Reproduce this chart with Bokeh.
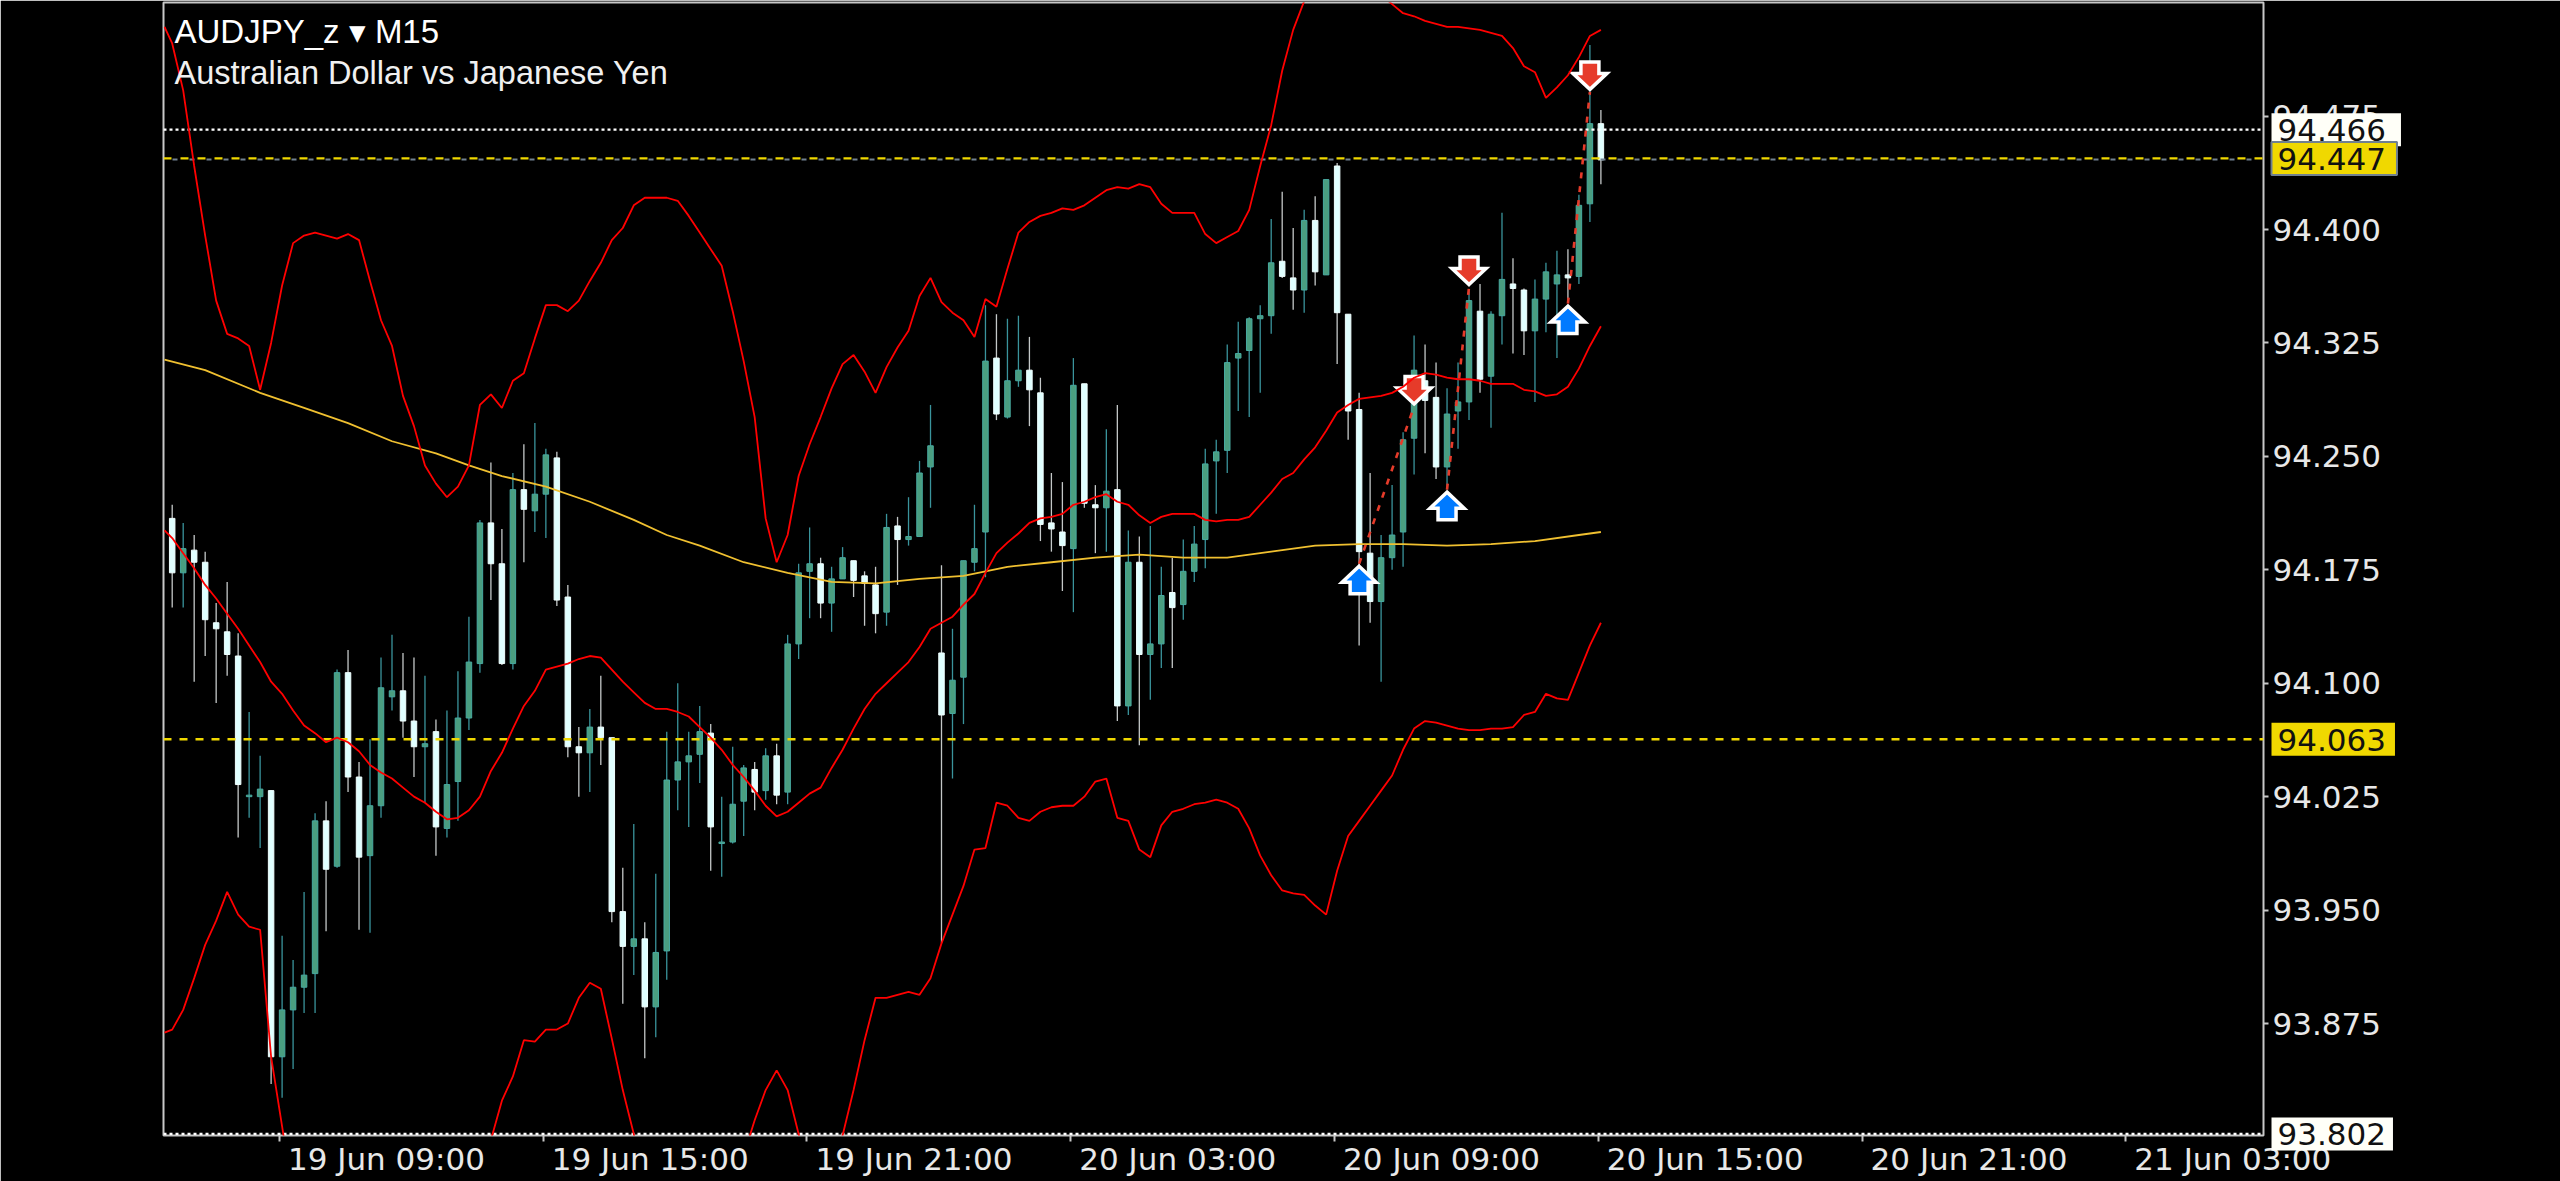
from bokeh.plotting import figure
from bokeh.models import Range1d, FixedTicker, NumeralTickFormatter, Label, ColumnDataSource
from bokeh.embed import file_html
from bokeh.resources import INLINE

highs = [94.218,94.206,94.198,94.187,94.153,94.167,94.133,94.081,94.052,94.029,
93.933,93.917,93.962,94.014,94.022,94.109,94.122,94.048,94.063,94.117,
94.132,94.120,94.117,94.105,94.076,94.082,94.108,94.144,94.208,94.246,
94.202,94.239,94.258,94.272,94.255,94.253,94.165,94.071,94.083,94.105,
94.064,93.978,94.007,93.942,93.974,94.068,94.100,94.068,94.085,94.073,
94.025,94.058,94.046,94.048,94.057,94.060,94.132,94.179,94.203,94.183,
94.177,94.190,94.181,94.174,94.177,94.212,94.210,94.223,94.247,94.284,
94.178,94.136,94.181,94.218,94.350,94.344,94.341,94.343,94.329,94.302,
94.239,94.233,94.315,94.298,94.231,94.268,94.284,94.201,94.197,94.204,
94.177,94.183,94.195,94.204,94.255,94.261,94.324,94.339,94.342,94.350,
94.407,94.425,94.401,94.413,94.422,94.433,94.444,94.344,94.292,94.239,
94.198,94.231,94.266,94.330,94.324,94.312,94.295,94.312,94.360,94.364,
94.346,94.411,94.381,94.361,94.367,94.378,94.386,94.387,94.423,94.522,
94.479]

tops = [94.209,94.189,94.188,94.180,94.140,94.134,94.118,94.026,94.030,94.029,
93.884,93.899,93.907,94.009,94.009,94.107,94.107,94.038,94.019,94.097,
94.095,94.095,94.075,94.060,94.068,94.033,94.077,94.114,94.206,94.206,
94.179,94.228,94.228,94.225,94.251,94.249,94.157,94.058,94.071,94.071,
94.064,93.949,93.931,93.931,93.922,94.036,94.048,94.052,94.068,94.067,
93.995,94.020,94.044,94.043,94.052,94.052,94.126,94.173,94.179,94.179,
94.169,94.183,94.181,94.171,94.165,94.203,94.204,94.197,94.239,94.257,
94.120,94.102,94.181,94.189,94.313,94.315,94.300,94.307,94.307,94.292,
94.206,94.200,94.297,94.298,94.218,94.227,94.228,94.180,94.180,94.126,
94.158,94.160,94.174,94.192,94.245,94.253,94.312,94.318,94.341,94.343,
94.378,94.379,94.368,94.406,94.406,94.433,94.442,94.344,94.281,94.186,
94.183,94.198,94.261,94.307,94.300,94.289,94.278,94.286,94.353,94.346,
94.344,94.367,94.364,94.360,94.354,94.372,94.370,94.370,94.416,94.470,
94.470]

bottoms = [94.173,94.173,94.180,94.142,94.136,94.119,94.033,94.025,94.025,93.853,
93.853,93.884,93.899,93.908,93.977,93.979,94.038,93.985,93.986,94.019,
94.091,94.075,94.058,94.058,94.005,94.004,94.035,94.077,94.113,94.179,
94.113,94.113,94.215,94.214,94.225,94.155,94.058,94.054,94.054,94.064,
93.949,93.926,93.926,93.886,93.886,93.923,94.036,94.048,94.053,94.005,
93.994,93.995,94.022,94.028,94.029,94.026,94.028,94.126,94.174,94.153,
94.153,94.169,94.168,94.166,94.146,94.147,94.195,94.195,94.197,94.243,
94.079,94.080,94.104,94.180,94.200,94.278,94.276,94.300,94.294,94.205,
94.202,94.191,94.189,94.219,94.216,94.216,94.085,94.085,94.119,94.119,
94.126,94.150,94.152,94.174,94.195,94.247,94.254,94.315,94.320,94.341,
94.343,94.369,94.360,94.360,94.372,94.370,94.345,94.280,94.187,94.154,
94.154,94.183,94.200,94.262,94.287,94.243,94.243,94.280,94.286,94.301,
94.303,94.343,94.361,94.333,94.333,94.354,94.364,94.368,94.369,94.417,
94.446]

lows = [94.150,94.150,94.101,94.118,94.087,94.105,93.998,94.011,93.991,93.835,
93.826,93.845,93.882,93.882,93.936,93.978,94.028,93.937,93.935,94.011,
94.082,94.064,94.038,94.021,93.986,93.998,94.009,94.069,94.107,94.155,
94.112,94.109,94.180,94.200,94.196,94.151,94.051,94.025,94.028,94.046,
93.942,93.888,93.907,93.852,93.866,93.904,94.016,94.005,94.034,93.976,
93.972,93.994,93.999,94.016,94.023,94.020,94.020,94.116,94.143,94.143,
94.134,94.169,94.157,94.138,94.133,94.138,94.165,94.191,94.197,94.216,
93.928,94.037,94.073,94.174,94.170,94.274,94.275,94.296,94.270,94.194,
94.187,94.161,94.147,94.216,94.186,94.187,94.075,94.079,94.059,94.089,
94.110,94.110,94.142,94.167,94.176,94.212,94.239,94.280,94.276,94.292,
94.331,94.368,94.347,94.345,94.363,94.370,94.311,94.261,94.125,94.140,
94.101,94.175,94.177,94.238,94.252,94.235,94.228,94.255,94.274,94.292,
94.269,94.324,94.318,94.317,94.286,94.332,94.315,94.352,94.364,94.405,
94.430]

direction = ("WGWWWWWGGW" "GGGGWGWWGG" "GWWGWGGGGW" "WGWGGWWWGW" "WWGWGGGGGW"
             "GGGWGWGGGW" "GGWWWGWGGG" "WGGGGWGGWW" "WWGWWGWGWG" "GWGGGGGGGG"
             "GWWGWGWWWW" "GGGGWWGGGW" "GGWWGGGWGG" "W")

band_idx = [-0.7] + list(range(131))

band_mid = [94.201,94.196,94.186,94.176,94.165,94.156,94.146,94.136,94.125,94.114,94.101,
94.093,94.082,94.072,94.067,94.061,94.064,94.061,94.055,94.046,94.041,
94.037,94.031,94.025,94.021,94.015,94.010,94.011,94.016,94.025,94.042,
94.054,94.070,94.085,94.095,94.109,94.111,94.113,94.116,94.118,94.117,
94.109,94.101,94.094,94.087,94.083,94.083,94.081,94.078,94.071,94.064,
94.056,94.046,94.038,94.029,94.019,94.012,94.015,94.021,94.027,94.031,
94.044,94.056,94.070,94.083,94.093,94.100,94.107,94.114,94.124,94.136,
94.140,94.144,94.152,94.159,94.173,94.186,94.193,94.199,94.206,94.209,
94.210,94.212,94.218,94.220,94.223,94.225,94.220,94.218,94.211,94.206,
94.210,94.212,94.212,94.212,94.208,94.207,94.208,94.208,94.210,94.218,
94.226,94.235,94.239,94.248,94.256,94.267,94.279,94.284,94.288,94.289,
94.290,94.292,94.296,94.302,94.305,94.304,94.302,94.301,94.301,94.300,
94.298,94.298,94.298,94.294,94.293,94.290,94.291,94.296,94.308,94.323,
94.336]

band_up = [94.534,94.523,94.492,94.442,94.396,94.353,94.331,94.328,94.323,94.294,94.325,
94.363,94.391,94.396,94.398,94.396,94.394,94.397,94.393,94.366,94.340,
94.323,94.290,94.270,94.244,94.232,94.223,94.230,94.244,94.284,94.291,
94.282,94.300,94.305,94.328,94.350,94.350,94.346,94.353,94.366,94.378,
94.393,94.401,94.416,94.421,94.421,94.421,94.419,94.409,94.398,94.387,
94.376,94.346,94.313,94.276,94.209,94.180,94.198,94.237,94.258,94.276,
94.295,94.311,94.317,94.306,94.292,94.309,94.322,94.333,94.356,94.368,
94.352,94.345,94.340,94.329,94.354,94.349,94.374,94.398,94.405,94.409,
94.411,94.414,94.413,94.416,94.421,94.426,94.428,94.427,94.430,94.428,
94.417,94.411,94.411,94.411,94.397,94.391,94.395,94.399,94.413,94.442,
94.469,94.505,94.532,94.551,94.568,94.575,94.578,94.578,94.575,94.565,
94.555,94.549,94.543,94.541,94.538,94.536,94.534,94.534,94.533,94.532,
94.530,94.528,94.520,94.508,94.504,94.487,94.494,94.502,94.514,94.528,
94.532]

band_lo = [93.869,93.871,93.884,93.905,93.927,93.943,93.962,93.947,93.939,93.937,93.853,
93.807,93.76,93.76,93.76,93.76,93.76,93.76,93.76,93.76,93.76,
93.76,93.76,93.76,93.76,93.76,93.76,93.76,93.76,93.76,93.798,
93.824,93.840,93.864,93.863,93.871,93.871,93.875,93.892,93.902,93.898,
93.865,93.831,93.802,93.76,93.76,93.76,93.76,93.76,93.76,93.76,
93.76,93.76,93.788,93.811,93.831,93.844,93.831,93.802,93.77,93.76,
93.77,93.801,93.831,93.864,93.892,93.892,93.894,93.896,93.894,93.905,
93.928,93.947,93.966,93.990,93.991,94.021,94.019,94.011,94.009,94.015,
94.018,94.019,94.019,94.025,94.035,94.037,94.011,94.009,93.990,93.985,
94.006,94.015,94.017,94.020,94.021,94.023,94.021,94.017,94.004,93.986,
93.973,93.963,93.961,93.960,93.953,93.947,93.976,93.999,94.009,94.019,
94.029,94.039,94.056,94.070,94.075,94.074,94.072,94.070,94.069,94.069,
94.070,94.070,94.071,94.079,94.081,94.093,94.090,94.089,94.107,94.125,
94.140]

ma_idx = [-0.7,3,8,12,16,20,24,27,30,34,38,42,45,48,52,56,60,64,68,72,76,80,84,88,92,96,100,104,108,112,116,120,124,128,130]
ma_val = [94.314,94.307,94.292,94.282,94.272,94.260,94.252,94.244,94.237,94.230,94.220,94.208,94.198,94.191,94.180,94.173,
          94.167,94.166,94.169,94.171,94.177,94.180,94.183,94.185,94.183,94.183,94.187,94.191,94.192,94.192,94.191,94.192,94.194,94.198,94.200]

trade_open_idx = [108,116,127]
trade_open = [94.179,94.228,94.351]
trade_close_idx = [113,118,129]
trade_close = [94.283,94.362,94.491]

bid = 94.466
ask_line = 94.447
level = 94.063
low_line = 93.802

price_ticks = [93.875,93.95,94.025,94.1,94.175,94.25,94.325,94.4,94.475]
time_ticks = [9.76,33.76,57.76,81.76,105.76,129.76,153.76,177.76]
time_labels = ["19 Jun 09:00","19 Jun 15:00","19 Jun 21:00","20 Jun 03:00","20 Jun 09:00","20 Jun 15:00","20 Jun 21:00","21 Jun 03:00"]

title1 = "AUDJPY_z \u25be M15"
title2 = "Australian Dollar vs Japanese Yen"

# --- layout
W, H = 2560, 1181
PL, PR, PT, PB = 163, 2263, 2, 1135
BAR = 10.99
PX = 1/1512.4
X0 = 171.7
Y_AT_TOP = 94.5501
def x_of(px): return (px - X0)/BAR
def y_of(py): return Y_AT_TOP - (py - PT)*PX

p = figure(width=W, height=H, output_backend="svg", toolbar_location=None,
           x_range=Range1d(x_of(PL), x_of(PR)), y_range=Range1d(y_of(PB), y_of(PT)),
           y_axis_location="right", background_fill_color="black", border_fill_color="black",
           min_border_left=PL, min_border_right=W-PR, min_border_top=PT, min_border_bottom=H-PB,
           frame_width=PR-PL, frame_height=PB-PT, margin=0)
p.grid.visible = False
p.outline_line_color = "#c8c8c8"
p.outline_line_width = 2

LABEL_SHIFT = 9.74
centers = [round(t + LABEL_SHIFT, 2) for t in time_ticks]
xa = p.xaxis[0]
xa.ticker = FixedTicker(ticks=centers, minor_ticks=time_ticks)
xa.major_label_overrides = {c: l for c, l in zip(centers, time_labels)}
xa.axis_line_color = None
xa.major_tick_line_color = None
xa.major_tick_out = 0
xa.major_tick_in = 0
xa.minor_tick_out = 6
xa.minor_tick_in = 0
xa.minor_tick_line_color = "#c8c8c8"
xa.minor_tick_line_width = 2
xa.major_label_standoff = -1
xa.major_label_text_color = "#e8e8e8"
xa.major_label_text_font = "DejaVu Sans"
xa.major_label_text_font_size = "31px"

ya = p.yaxis[0]
ya.ticker = FixedTicker(ticks=price_ticks)
ya.formatter = NumeralTickFormatter(format="0.000")
ya.axis_line_color = None
ya.major_tick_line_color = "#c8c8c8"
ya.major_tick_line_width = 2
ya.major_tick_out = 5
ya.major_tick_in = 0
ya.minor_tick_line_color = None
ya.major_label_standoff = 4
ya.major_label_text_color = "#e8e8e8"
ya.major_label_text_font = "DejaVu Sans"
ya.major_label_text_font_size = "31px"

# --- candles
idx = list(range(len(highs)))
opens = [b if d == "G" else t for t, b, d in zip(tops, bottoms, direction)]
closes = [t if d == "G" else b for t, b, d in zip(tops, bottoms, direction)]
def pick(seq, c): return [v for v, d in zip(seq, direction) if d == c]
for c, body, edge, wick in (("G", "#4a9e80", "#48aaa0", "#3a949c"), ("W", "#e0ffff", "#f0ffff", "#c4c8c8")):
    src = ColumnDataSource(dict(x=pick(idx, c), h=pick(highs, c), l=pick(lows, c), o=pick(opens, c), cl=pick(closes, c)))
    p.segment("x", "h", "x", "l", source=src, line_color=wick, line_width=1.3)
    p.vbar("x", 0.5, "o", "cl", source=src, fill_color=body, line_color=edge, line_width=1)

# --- horizontal levels
xl, xr = x_of(PL), x_of(PR)
p.line([xl, xr], [low_line, low_line], line_color="white", line_width=2.2, line_dash="3 3")
p.line([xl, xr], [bid, bid], line_color="white", line_width=2.2, line_dash="3 3")
p.line([xl, xr], [ask_line - PX, ask_line - PX], line_color="#708090", line_width=2, line_dash="5 12", line_dash_offset=8)
p.line([xl, xr], [ask_line, ask_line], line_color="#f0d800", line_width=2.2, line_dash="8 9")
p.line([xl, xr], [level, level], line_color="#f0d800", line_width=2.4, line_dash="8 8")

# --- trade arrows
def arrow(i, price, sgn):
    # sgn=+1 : arrow pointing up with its tip at price, -1 : pointing down
    pts = [(0, 2.5), (17, 18.5), (9, 18.5), (9, 30), (-9, 30), (-9, 18.5), (-17, 18.5)]
    xs = [i + a/BAR for a, b in pts]
    ys = [price - sgn*b*PX for a, b in pts]
    return xs, ys
for ii, pr, sgn, col in [(a, b, 1, "#007aff") for a, b in zip(trade_open_idx, trade_open)] + \
                        [(a, b, -1, "#e63b2a") for a, b in zip(trade_close_idx, trade_close)]:
    xs, ys = arrow(ii, pr, sgn)
    p.patch(xs, ys, fill_color=col, line_color="white", line_width=3.5, line_join="miter")

# --- indicator lines
p.line(ma_idx, ma_val, line_color="#f0c030", line_width=1.8)
for series in (band_up, band_mid, band_lo):
    p.line(band_idx, series, line_color="#ff0000", line_width=1.8)
for a, b, c, d in zip(trade_open_idx, trade_open, trade_close_idx, trade_close):
    p.line([a, c], [b, d], line_color="#e63b2a", line_width=2.6, line_dash="6 8")

# --- price tags on the right (side-panel labels are not clipped to the frame)
LBL_X = x_of(2271)
for v, fill, edge, pad in [(bid, "#fffff8", None, (2, 15, 2, 5)), (ask_line, "#f0d800", "#708090", (2, 11, 2, 5)),
                           (level, "#f0d800", None, (2, 9, 2, 5)), (low_line, "#fffff8", None, (2, 7, 2, 5))]:
    pads = (pad[0] + 4, pad[1], pad[2] + 4, pad[3])
    p.add_layout(Label(x=LBL_X, y=v, text=f"{v:.3f}", text_color="#111111", text_font="DejaVu Sans",
                       text_font_size="31px", text_baseline="middle", text_align="left",
                       background_fill_color=fill, background_fill_alpha=1, border_line_color=edge,
                       border_line_width=2, padding=pads), "right")

# --- titles
p.add_layout(Label(x=x_of(174), y=y_of(31), text=title1, text_color="white", text_font="Liberation Sans",
                   text_font_size="33px", text_baseline="middle"))
p.add_layout(Label(x=x_of(174), y=y_of(72), text=title2, text_color="#f0f0f0", text_font="Liberation Sans",
                   text_font_size="32.5px", text_baseline="middle"))

open("out.html", "w").write(file_html(p, INLINE))
